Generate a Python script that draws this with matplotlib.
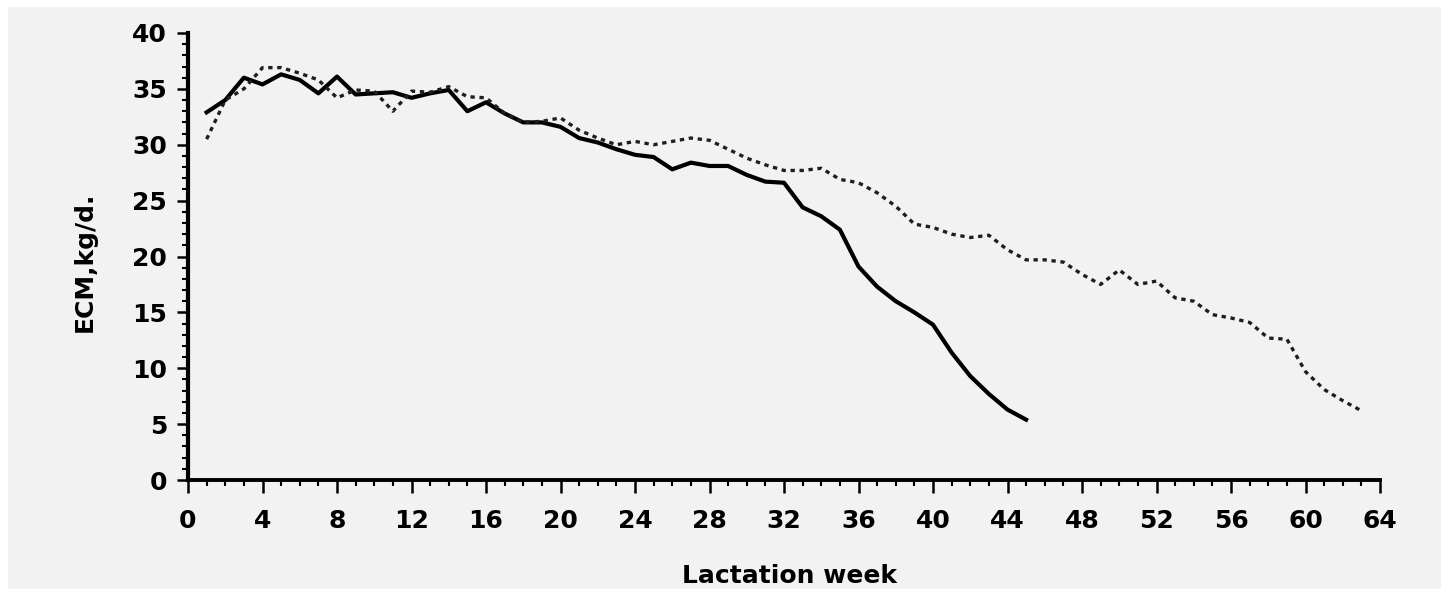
import matplotlib.pyplot as plt
from matplotlib.patches import Rectangle
from matplotlib.ticker import MultipleLocator

# ECM yield per lactation week
weeks_short = list(range(1, 46))
ecm_short = [32.9, 34.0, 36.0, 35.4, 36.3, 35.8, 34.6, 36.1, 34.5, 34.6,
             34.7, 34.2, 34.6, 34.9, 33.0, 33.8, 32.8, 32.0, 32.0, 31.6,
             30.6, 30.2, 29.6, 29.1, 28.9, 27.8, 28.4, 28.1, 28.1, 27.3,
             26.7, 26.6, 24.4, 23.6, 22.4, 19.1, 17.3, 16.0, 15.0, 13.9,
             11.4, 9.3, 7.7, 6.3, 5.4]

weeks_long = list(range(1, 64))
ecm_long = [30.5, 34.0, 35.0, 36.9, 36.9, 36.4, 35.8, 34.2, 34.9, 34.8,
            33.0, 34.8, 34.7, 35.2, 34.3, 34.2, 32.8, 32.0, 32.1, 32.4,
            31.3, 30.6, 30.0, 30.3, 30.0, 30.3, 30.6, 30.4, 29.6, 28.8,
            28.2, 27.7, 27.7, 27.9, 26.9, 26.6, 25.7, 24.5, 22.9, 22.6,
            22.0, 21.7, 21.9, 20.6, 19.7, 19.7, 19.5, 18.4, 17.5, 18.8,
            17.5, 17.8, 16.3, 16.0, 14.8, 14.5, 14.1, 12.7, 12.6, 9.7,
            8.1, 7.1, 6.2]

x_ticks = list(range(0, 65, 4))
y_ticks = list(range(0, 41, 5))

bg = '#f2f2f2'
font = 'DejaVu Sans'

fig = plt.figure(figsize=(14.41, 5.89), dpi=100, facecolor='white')
# gray scan background with a thin white margin top and left
fig.patches.append(Rectangle((8 / 1441, 0), 1, 1 - 7 / 589,
                             transform=fig.transFigure, facecolor=bg,
                             edgecolor='none', zorder=-10))

ax = fig.add_axes([188 / 1441, 1 - 480 / 589, 1192 / 1441, 447 / 589])
ax.patch.set_visible(False)

ax.plot(weeks_short, ecm_short, color='black', linewidth=3.0,
        solid_joinstyle='round')
ax.plot(weeks_long, ecm_long, color='#1e1e1e', linewidth=2.4,
        linestyle=(0, (1.3, 1.4)))

ax.set_xlim(0, 64)
ax.set_ylim(0, 40)
ax.set_xticks(x_ticks)
ax.set_yticks(y_ticks)
ax.xaxis.set_minor_locator(MultipleLocator(1))
ax.yaxis.set_minor_locator(MultipleLocator(1))

for side in ['top', 'right']:
    ax.spines[side].set_visible(False)
ax.spines['left'].set_linewidth(3)
ax.spines['bottom'].set_linewidth(2.8)

ax.tick_params(axis='x', which='major', length=9, width=1.8, pad=12,
               labelsize=18)
ax.tick_params(axis='y', which='major', length=8, width=1.8, pad=7,
               labelsize=18)
ax.tick_params(which='minor', length=4.5, width=1.5)
for lab in ax.get_xticklabels() + ax.get_yticklabels():
    lab.set_fontfamily(font)
    lab.set_fontweight('bold')

fig.text(85 / 1441, 1 - 262 / 589, 'ECM,kg/d.', rotation=90,
         ha='center', va='center', fontsize=18, family=font, weight='bold')
fig.text(789 / 1441, 1 / 589, 'Lactation week', ha='center',
         va='bottom', fontsize=18, family=font, weight='bold')

fig.savefig('out.png', dpi=100, facecolor=fig.get_facecolor())
